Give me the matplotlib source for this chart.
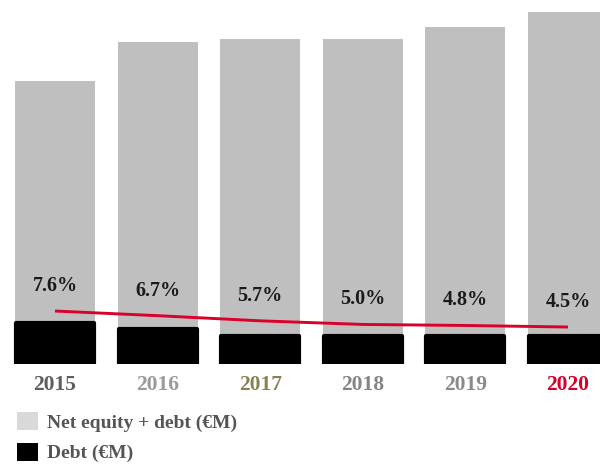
import matplotlib
matplotlib.use("Agg")
import matplotlib.pyplot as plt
from matplotlib.patches import Patch

years = ["2015", "2016", "2017", "2018", "2019", "2020"]
net_equity_plus_debt = [2830, 3220, 3250, 3250, 3370, 3520]
debt = [410, 350, 280, 280, 280, 280]
debt_ratio = [7.6, 6.7, 5.7, 5.0, 4.8, 4.5]
year_colors = ["#5e5e5e", "#9a9a9a", "#8c8155", "#858585", "#8a8a8a", "#d6002a"]
legend_labels = ["Net equity + debt (€M)", "Debt (€M)"]

FONT = "Liberation Serif"
GREY = "#bfbfbf"
RED = "#d9002b"

fig = plt.figure(figsize=(6.0, 4.67), dpi=100)
ax = fig.add_axes([0.0, 103 / 467, 1.0, 364 / 467])
x = list(range(len(years)))

ax.bar(x, net_equity_plus_debt, width=0.78, color=GREY, linewidth=0, zorder=1)
ax.bar(x, debt, width=0.76, color="black", edgecolor="black",
       linewidth=3, joinstyle="round", zorder=2)

ax.set_xlim(-0.536, 5.312)
ax.set_ylim(0, 3640)
ax.set_yticks([])
ax.set_xticks(x)
ax.set_xticklabels(years, fontfamily=FONT, fontweight="bold", fontsize=15.5)
for lbl, c in zip(ax.get_xticklabels(), year_colors):
    lbl.set_color(c)
ax.tick_params(axis="x", length=0, pad=8)
for s in ax.spines.values():
    s.set_visible(False)

# debt ratio line on its own scale
ax2 = ax.twinx()
ax2.set_ylim(-2.67, 67.9)
ax2.plot(x, debt_ratio, color=RED, lw=2.1, solid_capstyle="butt", zorder=3)
for xi, v in zip(x, debt_ratio):
    ax2.annotate(f"{v:.1f}%", (xi, v), xytext=(0, 18), textcoords="offset points",
                 ha="center", va="center", fontfamily=FONT, fontweight="bold",
                 fontsize=14.5, color="#1a1a1a")
ax2.set_yticks([])
for s in ax2.spines.values():
    s.set_visible(False)

handles = [Patch(facecolor="#d9d9d9", edgecolor="none"),
           Patch(facecolor="black", edgecolor="none")]
fig.legend(handles, legend_labels, loc="upper left",
           bbox_to_anchor=(17 / 600, 1 - 412 / 467), frameon=False,
           borderpad=0, borderaxespad=0, handlelength=1.08, handleheight=1.08,
           handletextpad=0.46, labelspacing=0.55, labelcolor="#555555",
           prop={"family": FONT, "weight": "bold", "size": 14})

fig.savefig("out.png", dpi=100)
